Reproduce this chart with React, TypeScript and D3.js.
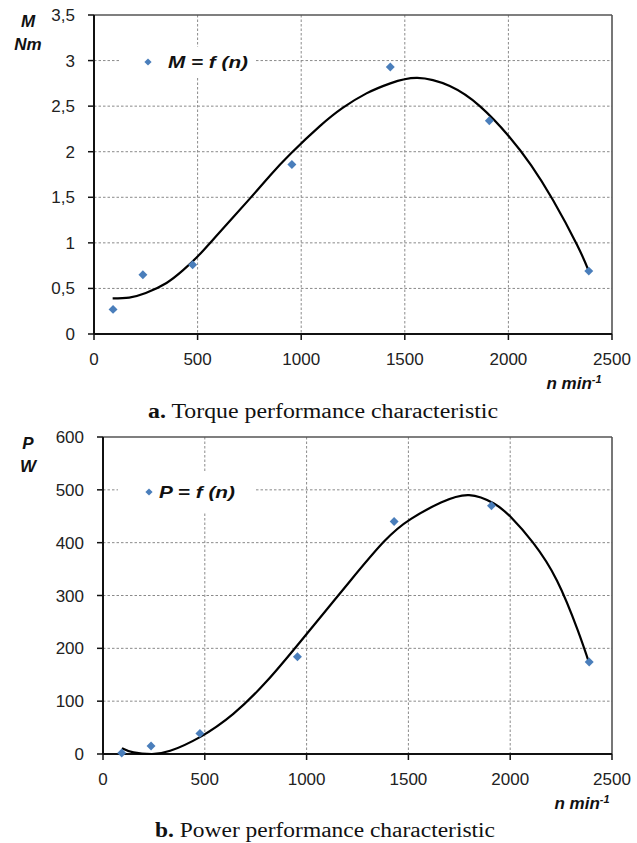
import React from "react";
import * as d3 from "d3";

// ---------- data ----------
const speedN = [92, 236, 476, 955, 1430, 1908, 2388];
const torqueM = [0.27, 0.65, 0.76, 1.86, 2.93, 2.34, 0.69];
const powerP = [2, 15, 39, 184, 440, 470, 174];

// trendline samples
const torqueCurveN = [90, 170, 250, 350, 430, 500, 600, 750, 850, 950, 1090, 1200, 1315, 1430, 1560, 1717, 1862, 2002, 2110, 2215, 2331, 2386];
const torqueCurveM = [0.39, 0.40, 0.45, 0.56, 0.70, 0.85, 1.10, 1.48, 1.74, 1.98, 2.28, 2.48, 2.64, 2.75, 2.81, 2.72, 2.50, 2.17, 1.85, 1.47, 0.98, 0.70];

const powerCurveN = [93, 150, 240, 330, 476, 640, 805, 968, 1100, 1213, 1380, 1513, 1660, 1798, 1920, 2004, 2112, 2230, 2332, 2388];
const powerCurveP = [11, 3, 0, 6, 32, 76, 138, 212, 274, 327, 402, 445, 476, 490, 474, 448, 400, 328, 234, 172];

const xTicks = [0, 500, 1000, 1500, 2000, 2500];
const torqueTicks = [0, 0.5, 1, 1.5, 2, 2.5, 3, 3.5];
const torqueTickLabels = ["0", "0,5", "1", "1,5", "2", "2,5", "3", "3,5"];
const powerTicks = [0, 100, 200, 300, 400, 500, 600];
const powerTickLabels = ["0", "100", "200", "300", "400", "500", "600"];

type PanelProps = {
  x0: number; x1: number; yTop: number; yBot: number;
  yMax: number; yTicks: number[]; yLabels: string[];
  ptsX: number[]; ptsY: number[]; curveX: number[]; curveY: number[];
  unit1: string; unit2: string; legend: string;
  legendBox: [number, number, number, number];
  legendDot: [number, number];
  legendTextDx: number; legendTextLen: number;
  nLabelX: number;
};

const MARKER = "#4a7ebb";
const FONT = "'Liberation Sans', Arial, sans-serif";
const SERIF = "'Liberation Serif', 'Times New Roman', serif";

function Panel(p: PanelProps) {
  const x = d3.scaleLinear().domain([0, 2500]).range([p.x0, p.x1]);
  const y = d3.scaleLinear().domain([0, p.yMax]).range([p.yBot, p.yTop]);
  const line = d3
    .line<number>()
    .x((_, i) => x(p.curveX[i]))
    .y((v) => y(v))
    .curve(d3.curveNatural);
  const diamond = d3.symbol().type(d3.symbolSquare).size(40)()!;
  const legDiamond = d3.symbol().type(d3.symbolSquare).size(26)()!;
  const [lx, ly, lw, lh] = p.legendBox;
  return (
    <g>
      {/* grid */}
      {xTicks.slice(1, -1).map((t) => (
        <line key={"gx" + t} x1={x(t)} x2={x(t)} y1={p.yTop} y2={p.yBot}
          stroke="#8a8a8a" strokeWidth={1} strokeDasharray="2.5,2" />
      ))}
      {p.yTicks.slice(1, -1).map((t) => (
        <line key={"gy" + t} x1={p.x0} x2={p.x1} y1={y(t)} y2={y(t)}
          stroke="#8a8a8a" strokeWidth={1} strokeDasharray="2.5,2" />
      ))}
      {/* legend box */}
      <rect x={lx} y={ly} width={lw} height={lh} fill="#fff" />
      <path d={legDiamond} transform={`translate(${p.legendDot[0]},${p.legendDot[1]}) rotate(45)`} fill={MARKER} />
      <text x={p.legendDot[0] + p.legendTextDx} y={p.legendDot[1] + 6} fontFamily={FONT} fontSize={17}
        fontWeight="bold" fontStyle="italic" fill="#111" textLength={p.legendTextLen}
        lengthAdjust="spacingAndGlyphs">{p.legend}</text>
      {/* frame */}
      <line x1={p.x0} x2={p.x1} y1={p.yTop} y2={p.yTop} stroke="#555" strokeWidth={1.6} />
      <line x1={p.x1} x2={p.x1} y1={p.yTop} y2={p.yBot} stroke="#555" strokeWidth={1.6} />
      <line x1={p.x0} x2={p.x0} y1={p.yTop} y2={p.yBot} stroke="#111" strokeWidth={2} />
      <line x1={p.x0} x2={p.x1} y1={p.yBot} y2={p.yBot} stroke="#111" strokeWidth={2} />
      {/* y ticks */}
      {p.yTicks.map((t, i) => (
        <g key={"yt" + t}>
          <line x1={p.x0 - 6} x2={p.x0} y1={y(t)} y2={y(t)} stroke="#111" strokeWidth={1.5} />
          <text x={p.x0 - 19} y={y(t) + 6} textAnchor="end" fontFamily={FONT} fontSize={17} fill="#222">
            {p.yLabels[i]}
          </text>
        </g>
      ))}
      {/* x ticks */}
      {xTicks.map((t) => (
        <g key={"xt" + t}>
          <line x1={x(t)} x2={x(t)} y1={p.yBot} y2={p.yBot + 6} stroke="#111" strokeWidth={1.5} />
          <text x={x(t)} y={p.yBot + 31} textAnchor="middle" fontFamily={FONT} fontSize={17} fill="#222">
            {t}
          </text>
        </g>
      ))}
      {/* axis titles */}
      <text x={28} y={p.yTop + 12} textAnchor="middle" fontFamily={FONT} fontSize={17}
        fontWeight="bold" fontStyle="italic" fill="#111">{p.unit1}</text>
      <text x={28} y={p.yTop + 35} textAnchor="middle" fontFamily={FONT} fontSize={17}
        fontWeight="bold" fontStyle="italic" fill="#111">{p.unit2}</text>
      <text x={p.nLabelX} y={p.yBot + 55} textAnchor="middle" fontFamily={FONT} fontSize={17}
        fontWeight="bold" fontStyle="italic" fill="#111">
        n min<tspan dy={-6} fontSize={11}>-1</tspan>
      </text>
      {/* trendline */}
      <path d={line(p.curveY) ?? ""} fill="none" stroke="#000" strokeWidth={2.2} />
      {/* points */}
      {p.ptsX.map((v, i) => (
        <path key={"pt" + i} d={diamond}
          transform={`translate(${x(v)},${y(p.ptsY[i])}) rotate(45)`} fill={MARKER} />
      ))}
    </g>
  );
}

export default function App() {
  return (
    <svg width={637} height={843} style={{ position: "absolute", left: 0, top: 0, background: "#fff" }}>
      <rect width={637} height={843} fill="#fff" />
      <Panel x0={94} x1={612} yTop={15} yBot={334} yMax={3.5}
        yTicks={torqueTicks} yLabels={torqueTickLabels}
        ptsX={speedN} ptsY={torqueM} curveX={torqueCurveN} curveY={torqueCurveM}
        unit1="M" unit2="Nm" legend="M = f (n)"
        legendBox={[120, 47, 135, 30]} legendDot={[148, 62]}
        legendTextDx={20} legendTextLen={80} nLabelX={574} />
      <text x={148} y={418} fontFamily={SERIF} fontSize={20} fill="#111"
        textLength={350} lengthAdjust="spacingAndGlyphs">
        <tspan fontWeight="bold">a.</tspan> Torque performance characteristic
      </text>
      <Panel x0={103} x1={612} yTop={437} yBot={754} yMax={600}
        yTicks={powerTicks} yLabels={powerTickLabels}
        ptsX={speedN} ptsY={powerP} curveX={powerCurveN} curveY={powerCurveP}
        unit1="P" unit2="W" legend="P = f (n)"
        legendBox={[118, 472, 137, 40]} legendDot={[149, 492]}
        legendTextDx={10} legendTextLen={76} nLabelX={582} />
      <text x={155} y={837} fontFamily={SERIF} fontSize={20} fill="#111"
        textLength={340} lengthAdjust="spacingAndGlyphs">
        <tspan fontWeight="bold">b.</tspan> Power performance characteristic
      </text>
    </svg>
  );
}
